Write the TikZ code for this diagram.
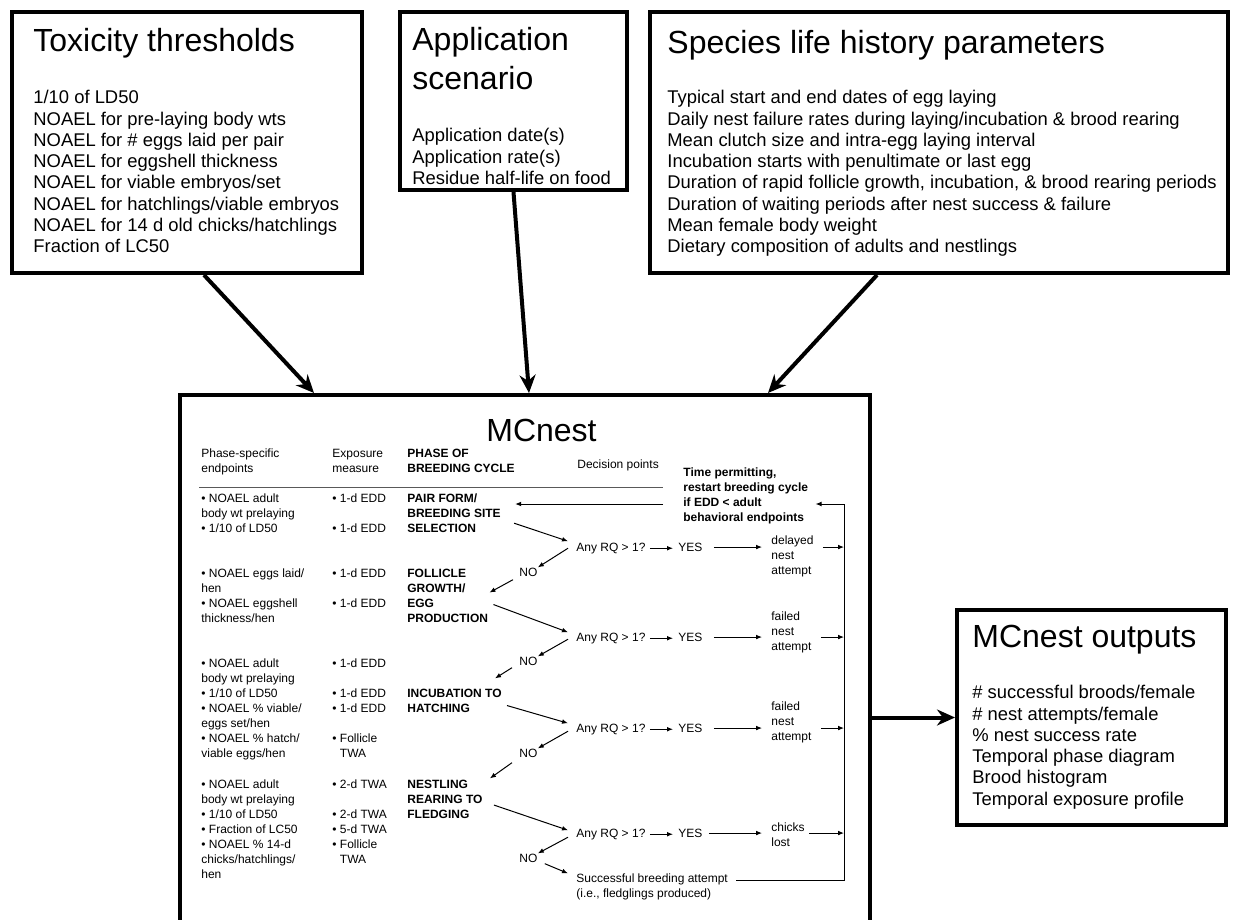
\documentclass[tikz,border=0pt]{standalone}
\usepackage{fontspec}
\setmainfont{Liberation Sans}
\usetikzlibrary{arrows.meta}
\begin{document}
\begin{tikzpicture}[x=0.5pt,y=-0.5pt,
  box/.style={draw, line width=2pt, inner sep=0pt},
  ttl/.style={anchor=north west, inner sep=0pt, align=left, font=\fontsize{16}{19.5}\selectfont},
  bdy/.style={anchor=north west, inner sep=0pt, align=left, font=\fontsize{9.2}{10.65}\selectfont},
  sm/.style={anchor=north west, inner sep=0pt, align=left, font=\fontsize{6}{7.5}\selectfont},
  smb/.style={anchor=north west, inner sep=0pt, align=left, font=\fontsize{6}{7.5}\selectfont\bfseries},
  bigarrow/.style={line width=2pt, -{Stealth[length=9pt,width=8pt]}},
  sarrow/.style={line width=0.5pt, -{Latex[length=3pt,width=2.4pt]}},
  thinline/.style={line width=0.5pt},
  ruleline/.style={line width=0.5pt, draw=black!65}]
\path[use as bounding box, clip] (0,0) rectangle (1238,920);
\fill[white] (0,0) rectangle (1238,920);

% ---- input boxes ----
\node[box, minimum width=175pt, minimum height=130.5pt] (tox) at (187,142.5) {};
\node[ttl] (toxT) at (33,28) {Toxicity thresholds};
\node[bdy] (toxB) at (33,90) {1/10 of LD50\\NOAEL for pre-laying body wts\\NOAEL for \# eggs laid per pair\\NOAEL for eggshell thickness\\NOAEL for viable embryos/set\\NOAEL for hatchlings/viable embryos\\NOAEL for 14 d old chicks/hatchlings\\Fraction of LC50};

\node[box, minimum width=113.5pt, minimum height=89pt] (app) at (513.5,101) {};
\node[ttl] (appT) at (412,27) {Application\\scenario};
\node[bdy] (appB) at (412,128) {Application date(s)\\Application rate(s)\\Residue half-life on food};

\node[box, minimum width=289pt, minimum height=130.5pt] (spec) at (939,142.5) {};
\node[ttl] (specT) at (667,30) {Species life history parameters};
\node[bdy] (specB) at (667,90) {Typical start and end dates of egg laying\\Daily nest failure rates during laying/incubation \& brood rearing\\Mean clutch size and intra-egg laying interval\\Incubation starts with penultimate or last egg\\Duration of rapid follicle growth, incubation, \& brood rearing periods\\Duration of waiting periods after nest success \& failure\\Mean female body weight\\Dietary composition of adults and nestlings};

% ---- MCnest box ----
\node[box, minimum width=345pt, minimum height=272.5pt] (mc) at (525,667.5) {};
\node[ttl] (mcT) at (486,419) {MCnest};

% ---- outputs box ----
\node[box, minimum width=134.5pt, minimum height=107.5pt] (out) at (1091.5,717.5) {};
\node[ttl] (outT) at (972,625) {MCnest outputs};
\node[bdy] (outB) at (972,685) {\# successful broods/female\\\# nest attempts/female\\\% nest success rate\\Temporal phase diagram\\Brood histogram\\Temporal exposure profile};

% ---- big arrows ----
\draw[bigarrow] ([xshift=8.5pt]tox.south) -- ([xshift=-105.5pt]mc.north);
\draw[bigarrow] (app.south) -- ([xshift=2pt]mc.north);
\draw[bigarrow] ([xshift=-31pt]spec.south) -- ([xshift=121.5pt]mc.north);
\draw[bigarrow] (out.west -| mc.east) -- (out.west);

% ---- inner diagram: headers ----
\node[sm] (h1) at (201,448.4) {Phase-specific\\endpoints};
\node[sm] (h2) at (332,448.4) {Exposure\\measure};
\node[smb] (h3) at (407,448.4) {PHASE OF\\BREEDING CYCLE};
\node[sm] (h4) at (577,459.4) {Decision points};
\node[smb] (tp) at (683,467.4) {Time permitting,\\restart breeding cycle\\if EDD < adult\\behavioral endpoints};
\coordinate (ruleL) at (199,487);
\coordinate (ruleR) at (663,487);
\draw[ruleline] (ruleL) -- (ruleR);

% ---- endpoints ----
\node[sm] (e1) at (201,493.4) {• NOAEL adult\\body wt prelaying\\• 1/10 of LD50};
\node[sm] (e2) at (201,568.4) {• NOAEL eggs laid/\\hen\\• NOAEL eggshell\\thickness/hen};
\node[sm] (e3) at (201,658.4) {• NOAEL adult\\body wt prelaying\\• 1/10 of LD50\\• NOAEL \% viable/\\eggs set/hen\\• NOAEL \% hatch/\\viable eggs/hen};
\node[sm] (e4) at (201,779.4) {• NOAEL adult\\body wt prelaying\\• 1/10 of LD50\\• Fraction of LC50\\• NOAEL \% 14-d\\chicks/hatchlings/\\hen};

% ---- exposure ----
\node[sm] (x1) at (332,493.4) {• 1-d EDD\\[7.5pt]• 1-d EDD};
\node[sm] (x2) at (332,568.4) {• 1-d EDD\\[7.5pt]• 1-d EDD};
\node[sm] (x3) at (332,658.4) {• 1-d EDD\\[7.5pt]• 1-d EDD\\• 1-d EDD\\[7.5pt]• Follicle\\\phantom{• }TWA};
\node[sm] (x4) at (332,779.4) {• 2-d TWA\\[7.5pt]• 2-d TWA\\• 5-d TWA\\• Follicle\\\phantom{• }TWA};

% ---- phases ----
\node[smb] (p1) at (407,493.4) {PAIR FORM/\\BREEDING SITE\\SELECTION};
\node[smb] (p2) at (407,568.4) {FOLLICLE\\GROWTH/\\EGG\\PRODUCTION};
\node[smb] (p3) at (407,688.4) {INCUBATION TO\\HATCHING};
\node[smb] (p4) at (407,779.4) {NESTLING\\REARING TO\\FLEDGING};

% ---- decisions ----
\node[sm] (q1) at (576,542.4) {Any RQ > 1?};
\node[sm] (q2) at (576,632.4) {Any RQ > 1?};
\node[sm] (q3) at (576,723.4) {Any RQ > 1?};
\node[sm] (q4) at (576,828.4) {Any RQ > 1?};
\node[sm] (y1) at (678,542.4) {YES};
\node[sm] (y2) at (678,632.4) {YES};
\node[sm] (y3) at (678,723.4) {YES};
\node[sm] (y4) at (678,828.4) {YES};
\node[sm] (n1) at (519,567.4) {NO};
\node[sm] (n2) at (519,656.4) {NO};
\node[sm] (n3) at (519,748.4) {NO};
\node[sm] (n4) at (519,853.4) {NO};
\node[sm] (o1) at (771,535.4) {delayed\\nest\\attempt};
\node[sm] (o2) at (771,611.4) {failed\\nest\\attempt};
\node[sm] (o3) at (771,701.4) {failed\\nest\\attempt};
\node[sm] (o4) at (771,822.4) {chicks\\lost};
\node[sm] (s) at (576,873.4) {Successful breeding attempt\\(i.e., fledglings produced)};

\coordinate (vtop) at (844,504);
\coordinate (vbot) at (844,880);

% decision arrows
\draw[sarrow] ([shift={(13,10)}]p1.east) -- ([shift={(-8,-7)}]q1.west);
\draw[sarrow] ([shift={(-8,0)}]q1.west) -- (n1.north east);
\draw[sarrow] ([shift={(-6,3)}]n1.south west) -- ([shift={(1,-3)}]p2.east);
\draw[sarrow] ([shift={(5,9)}]p2.east) -- ([shift={(-8,-6)}]q2.west);
\draw[sarrow] ([shift={(-8,1)}]q2.west) -- (n2.north east);
\draw[sarrow] ([shift={(-7,2)}]n2.south west) -- ([shift={(-7,-10)}]p3.north east);
\draw[sarrow] ([shift={(5,5)}]p3.east) -- ([shift={(-8,-6)}]q3.west);
\draw[sarrow] ([shift={(-8,2)}]q3.west) -- (n3.north east);
\draw[sarrow] ([shift={(-7,5)}]n3.south west) -- ([shift={(7,-1)}]p4.north east);
\draw[sarrow] ([shift={(11,6)}]p4.east) -- ([shift={(-8,-4)}]q4.west);
\draw[sarrow] ([shift={(-8,3)}]q4.west) -- (n4.north east);
\draw[sarrow] ([shift={(7,1)}]n4.south east) -- ([shift={(-8,0)}]s.north west);

% any RQ -> YES
\draw[sarrow] ([xshift=2pt]q1.east) -- ([xshift=-2.5pt]q1.east -| y1.west);
\draw[sarrow] ([xshift=2pt]q2.east) -- ([xshift=-2.5pt]q2.east -| y2.west);
\draw[sarrow] ([xshift=2pt]q3.east) -- ([xshift=-2.5pt]q3.east -| y3.west);
\draw[sarrow] ([xshift=2pt]q4.east) -- ([xshift=-2.5pt]q4.east -| y4.west);

% YES -> outcome
\draw[sarrow] ([xshift=5.5pt]y1.east) -- ([xshift=-4.5pt]y1.east -| o1.west);
\draw[sarrow] ([xshift=5.5pt]y2.east) -- ([xshift=-4.5pt]y2.east -| o2.west);
\draw[sarrow] ([xshift=5.5pt]y3.east) -- ([xshift=-4.5pt]y3.east -| o3.west);
\draw[sarrow] ([xshift=3pt]y4.east) -- ([xshift=-4.5pt]y4.east -| o4.west);

% outcome -> return line
\draw[sarrow] ([xshift=4.5pt]y1.east -| o1.east) -- (y1.east -| vtop);
\draw[sarrow] ([xshift=4.5pt]y2.east -| o2.east) -- (y2.east -| vtop);
\draw[sarrow] ([xshift=4.5pt]y3.east -| o3.east) -- (y3.east -| vtop);
\draw[sarrow] ([xshift=2pt]y4.east -| o4.east) -- (y4.east -| vtop);

% return loop
\draw[sarrow] ([shift={(8,6.6)}]s.north east) -- (vbot) -- (vtop) -- ([xshift=3.5pt]tp.east |- vtop);
\draw[sarrow] ([xshift=-10pt]tp.west |- vtop) -- ([xshift=7pt]p1.east |- vtop);
\end{tikzpicture}
\end{document}
